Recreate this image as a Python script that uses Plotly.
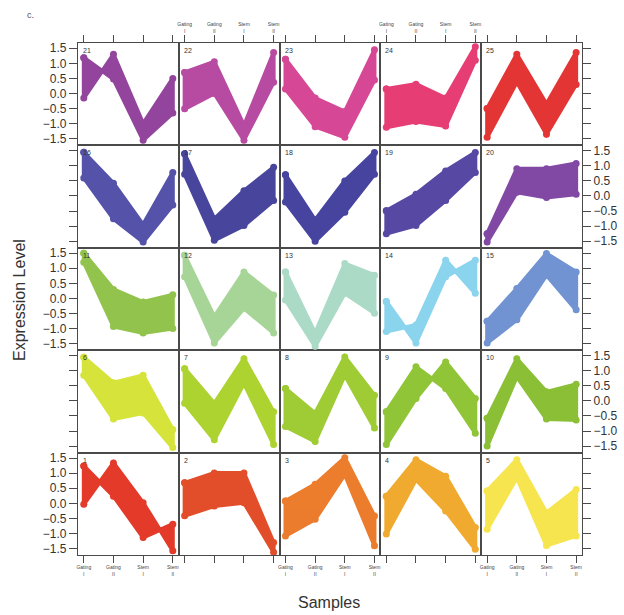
import plotly.graph_objects as go

# ---- data -------------------------------------------------------------
sample_pos = [1, 2, 3, 4]
sample_labels = ["Gating<br>I", "Gating<br>II", "Stem<br>I", "Stem<br>II"]
y_ticks = [-1.5, -1.0, -0.5, 0.0, 0.5, 1.0, 1.5]
y_tick_text = ["\u22121.5", "\u22121.0", "\u22120.5", "0.0", "0.5", "1.0", "1.5"]

cluster_ids = list(range(1, 26))

# two boundary profiles of each cluster's band (cluster 1..25)
edge_a = [
    [1.24, 0.24, -1.13, -0.69],   # 1
    [0.68, 1.01, 1.01, -1.30],    # 2
    [0.08, 0.63, 1.51, -0.42],    # 3
    [0.24, 1.45, 0.90, -0.80],    # 4
    [0.41, 1.45, -0.31, 0.46],    # 5
    [1.45, 0.60, 0.85, -0.95],    # 6
    [1.07, -0.08, 1.40, -0.36],   # 7
    [0.41, -0.41, 1.46, 0.19],    # 8
    [-0.36, 1.13, 0.41, -1.07],   # 9
    [-0.58, 1.40, 0.30, 0.55],    # 10
    [1.50, 0.30, -0.12, 0.12],    # 11
    [1.43, -0.60, 0.88, 0.11],    # 12
    [0.88, -1.15, 1.16, 0.77],    # 13
    [-0.10, -1.48, 0.72, 1.27],   # 14
    [-0.76, 0.33, 1.49, 0.88],    # 15
    [1.45, 0.42, -0.95, 0.78],    # 16
    [1.40, -0.76, 0.17, 0.95],    # 17
    [0.70, -0.80, 0.50, 1.44],    # 18
    [-0.49, 0.06, 0.83, 1.44],    # 19
    [-1.25, 0.90, 0.90, 1.08],    # 20
    [1.19, 0.48, -1.55, -0.65],   # 21
    [0.70, 1.05, -1.06, 1.36],    # 22
    [1.14, -0.15, -0.60, 1.45],   # 23
    [0.15, 0.31, -0.15, 1.55],    # 24
    [-0.50, 1.30, -0.35, 1.36],   # 25
]
edge_b = [
    [-0.03, 1.34, 0.02, -1.57],   # 1
    [-0.41, -0.09, 0.02, -1.62],  # 2
    [-1.08, -0.53, 0.96, -1.41],  # 3
    [-1.02, 0.79, -0.25, -1.52],  # 4
    [-0.86, 0.85, -1.40, -1.08],  # 5
    [0.85, -0.60, -0.40, -1.55],  # 6
    [-0.08, -1.29, 0.58, -1.45],  # 7
    [-0.85, -1.35, 0.85, -0.90],  # 8
    [-1.45, 0.08, 1.29, 0.08],    # 9
    [-1.50, 0.80, -0.60, -0.63],  # 10
    [1.20, -0.93, -1.15, -1.00],  # 11
    [0.72, -1.48, -0.33, -1.15],  # 12
    [-0.05, -1.59, 0.17, -0.49],  # 13
    [-1.10, -0.88, 1.27, 0.17],   # 14
    [-1.48, -0.71, 0.77, -0.38],  # 15
    [0.60, -0.76, -1.53, -0.30],  # 16
    [0.72, -1.47, -0.98, -0.15],  # 17
    [-0.20, -1.50, -0.54, 0.72],  # 18
    [-1.25, -0.98, -0.15, 0.78],  # 19
    [-1.53, 0.12, -0.05, 0.06],   # 20
    [-0.15, 1.30, -1.00, 0.50],   # 21
    [-0.51, 0.00, -1.55, 0.37],   # 22
    [0.15, -1.10, -1.45, 0.45],   # 23
    [-1.12, -0.93, -1.08, 1.10],  # 24
    [-1.45, 0.38, -1.35, 0.30],   # 25
]
colors = [
    "#E2301F", "#E1441F", "#EB7622", "#F0A624", "#F6E445",
    "#D3E230", "#A9D125", "#9ACA2A", "#8CC22E", "#84BC2C",
    "#8DC043", "#A3D393", "#A7D8C5", "#85D2EE", "#6A8ED0",
    "#4B49A5", "#3F3C98", "#3D3B99", "#4D3F9F", "#7B3FA0",
    "#8E3C98", "#B4429E", "#D43F90", "#E5336E", "#E32B2B",
]

# ---- layout geometry --------------------------------------------------
W, H = 624, 615
left, right = 77, 582
top, bottom = 42, 556
cw = (right - left) / 5
rh = (bottom - top) / 5

fig = go.Figure()
layout = dict(
    width=W, height=H, margin=dict(l=0, r=0, t=0, b=0),
    paper_bgcolor="white", plot_bgcolor="white", showlegend=False,
    font=dict(family="Liberation Sans, Arial, sans-serif", color="#333"),
)
annotations = []
axcol = "#4a4a4a"

for k, cid in enumerate(cluster_ids):
    idx = k + 1
    r = 4 - (cid - 1) // 5      # row from top
    c = (cid - 1) % 5
    x0 = (left + c * cw) / W
    x1 = (left + (c + 1) * cw) / W
    y1 = 1 - (top + r * rh) / H
    y0 = 1 - (top + (r + 1) * rh) / H
    xn = "xaxis" if idx == 1 else f"xaxis{idx}"
    yn = "yaxis" if idx == 1 else f"yaxis{idx}"
    xr = "x" if idx == 1 else f"x{idx}"
    yr = "y" if idx == 1 else f"y{idx}"

    a = edge_a[k]
    b = edge_b[k]
    px = sample_pos + sample_pos[::-1] + [sample_pos[0]]
    py = a + b[::-1] + [a[0]]
    fig.add_trace(go.Scatter(
        x=px, y=py, xaxis=xr, yaxis=yr, mode="lines+markers", fill="toself",
        fillcolor=colors[k], line=dict(color=colors[k], width=4),
        marker=dict(color=colors[k], size=7),
        opacity=0.95, hoverinfo="skip",
    ))

    # x axis
    xa = dict(domain=[x0, x1], range=[0.8, 4.2], anchor=yr,
              showgrid=False, zeroline=False, showline=True, mirror=True,
              linecolor=axcol, linewidth=1, tickvals=sample_pos,
              ticktext=sample_labels, tickfont=dict(size=5, color="#444"),
              ticks="", showticklabels=False, fixedrange=True)
    if r == 0:
        xa.update(side="top", ticks="outside", ticklen=7, tickcolor=axcol,
                  showticklabels=(c in (1, 3)))
    elif r == 4:
        xa.update(side="bottom", ticks="outside", ticklen=7, tickcolor=axcol,
                  showticklabels=(c in (0, 2, 4)))
    # y axis
    ya = dict(domain=[y0, y1], range=[-1.72, 1.68], anchor=xr,
              showgrid=False, zeroline=False, showline=True, mirror=True,
              linecolor=axcol, linewidth=1, tickvals=y_ticks,
              ticktext=y_tick_text, tickfont=dict(size=12, color="#333"),
              ticks="", showticklabels=False, fixedrange=True)
    if c == 0:
        ya.update(side="left", ticks="outside", ticklen=8, tickcolor=axcol,
                  showticklabels=(r in (0, 2, 4)))
    elif c == 4:
        ya.update(side="right", ticks="outside", ticklen=8, tickcolor=axcol,
                  showticklabels=(r in (1, 3)))
    layout[xn] = xa
    layout[yn] = ya

    annotations.append(dict(
        x=x0 + 3 / W, y=y1 - 2 / H, xref="paper", yref="paper",
        text=str(cid), showarrow=False, xanchor="left", yanchor="top",
        font=dict(size=7, color="#333"),
    ))

annotations += [
    dict(x=30 / W, y=1 - 14 / H, xref="paper", yref="paper", text="c.",
         showarrow=False, xanchor="center", yanchor="middle",
         font=dict(size=9, color="#555")),
    dict(x=18 / W, y=1 - 300 / H, xref="paper", yref="paper",
         text="Expression Level", showarrow=False, textangle=-90,
         xanchor="center", yanchor="middle", font=dict(size=16, color="#333")),
    dict(x=329 / W, y=1 - 603 / H, xref="paper", yref="paper",
         text="Samples", showarrow=False, xanchor="center", yanchor="middle",
         font=dict(size=16, color="#333")),
]
layout["annotations"] = annotations
fig.update_layout(**layout)
fig.write_html("out.html")
